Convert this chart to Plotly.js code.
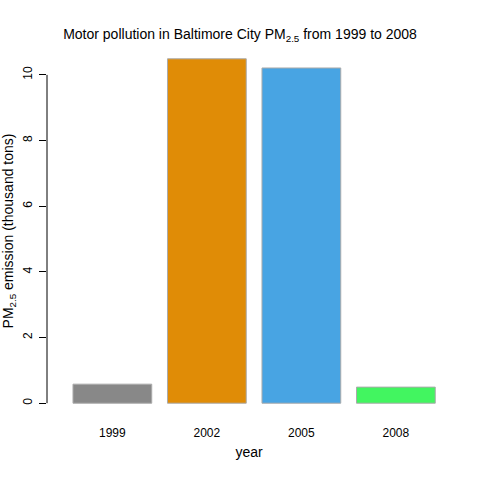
<!DOCTYPE html>
<html><head><script src="https://cdn.plot.ly/plotly-3.0.1.min.js"></script></head>
<body style="margin:0"><div id="c" style="width:480px;height:480px"></div>
<script>
const years = ["1999","2002","2005","2008"];
const emissions = [0.58, 10.49, 10.21, 0.49];
const colors = ["#888888","#E08C06","#48A4E3","#42F560"];
const pos = [0.7,1.9,3.1,4.3];
Plotly.newPlot("c",[{
  type:"bar", x:pos, y:emissions, width:1,
  marker:{color:colors, line:{color:"#aaaaaa", width:1}}
}],{
  width:480,height:480,
  margin:{l:47,r:29,t:45,b:63},
  paper_bgcolor:"white",plot_bgcolor:"white",
  font:{family:"Liberation Sans, Arial", size:12, color:"black"},
  title:{text:"Motor pollution in Baltimore City PM<sub>2.5</sub> from 1999 to 2008", x:0.5, xanchor:"center", y:0.94, font:{size:14}},
  showlegend:false,
  xaxis:{range:[-0.13,5.0], tickvals:pos, ticktext:years, showgrid:false, zeroline:false, showline:false, ticks:"", ticklabelstandoff:7,
    title:{text:"year", standoff:8}},
  yaxis:{range:[-0.42,10.91], tickvals:[0,2,4,6,8,10], tickangle:-90, ticks:"outside", ticklen:7, tickcolor:"black",
    showgrid:false, zeroline:false, showline:false, ticklabelstandoff:2,
    title:{text:"PM<sub>2.5</sub> emission (thousand tons)", standoff:10}},
  shapes:[{type:"line", xref:"paper", yref:"y", x0:0, x1:0, y0:0, y1:10, line:{color:"black", width:1}}]
},{displayModeBar:false});
</script></body></html>
